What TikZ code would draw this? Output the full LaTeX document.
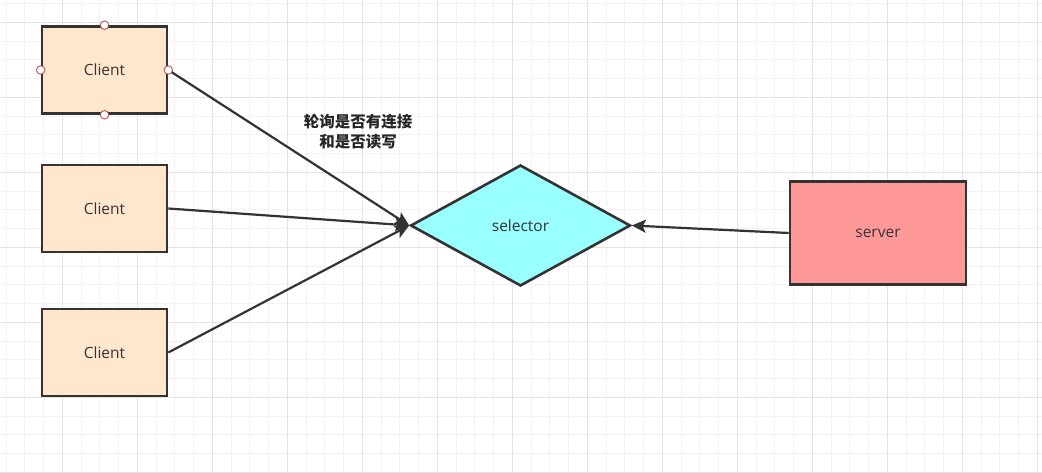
\documentclass[tikz,border=0pt]{standalone}
\usepackage{fontspec}
\setmainfont{Open Sans}
\newfontfamily\cjk{Noto Sans CJK SC}
\usetikzlibrary{shapes.geometric,arrows.meta}
\definecolor{linegray}{HTML}{333333}
\definecolor{clientfill}{HTML}{FFE6CC}
\definecolor{selfill}{HTML}{99FFFF}
\definecolor{serverfill}{HTML}{FF9999}
\definecolor{minorline}{HTML}{F2F2F2}
\definecolor{majorline}{HTML}{E3E3E3}
\definecolor{handle}{HTML}{B85450}
\tikzset{
    box/.style={draw=linegray, line width=2.6pt, text=linegray, inner sep=0pt,
        font=\fontsize{15.5}{18}\selectfont},
    clientbox/.style={box, fill=clientfill, minimum width=125pt, minimum height=87pt},
    serverbox/.style={box, fill=serverfill, minimum width=176pt, minimum height=103pt},
    selectorbox/.style={box, diamond, fill=selfill, aspect=1.82, minimum width=220pt, minimum height=121pt},
    link/.style={draw=linegray, line width=2.2pt, -{Stealth[length=14pt, width=13pt, inset=3pt]}},
    grip/.style={circle, draw=handle, fill=white, line width=0.9pt, inner sep=0pt, minimum size=8.5pt},
}
\begin{document}
\begin{tikzpicture}[x=1pt, y=-1pt]
        \useasboundingbox (0,0) rectangle (1042,473);
        \fill [white] (0,0) rectangle (1042,473);
        % grid
        \foreach \i in {0,...,55}
            \draw [minorline, line width=1pt] ({6.05+18.75*\i},0) -- ({6.05+18.75*\i},473);
        \foreach \j in {0,...,25}
            \draw [minorline, line width=1pt] (0,{3.55+18.75*\j}) -- (1042,{3.55+18.75*\j});
        \foreach \i in {0,...,13}
            \draw [majorline, line width=1pt] ({62.3+75*\i},0) -- ({62.3+75*\i},473);
        \foreach \j in {0,...,6}
            \draw [majorline, line width=1pt] (0,{22.3+75*\j}) -- (1042,{22.3+75*\j});

        \node [clientbox] (client1) at (104.5, 70) {Client};
        \node [clientbox] (client2) at (104.5, 208.5) {Client};
        \node [clientbox] (client3) at (104.5, 352.5) {Client};
        \node [selectorbox] (selector) at (520.5, 225.5) {selector};
        \node [serverbox] (server) at (878, 233) {server};

        \draw [link] (client1.east) -- (selector.west);
        \draw [link] (client2.east) -- (selector.west);
        \draw [link] (client3.east) -- (selector.west);
        \draw [link] (server.west) -- (selector.east);

        \node [align=center, text=black!85, font=\cjk\bfseries\fontsize{15.5}{20}\selectfont] (poll) at (358, 131.5) {轮询是否有连接\\和是否读写};

        % selection handles
        \foreach \a in {north, south, west, east}
            \node [grip] at (client1.\a) {};
\end{tikzpicture}
\end{document}
